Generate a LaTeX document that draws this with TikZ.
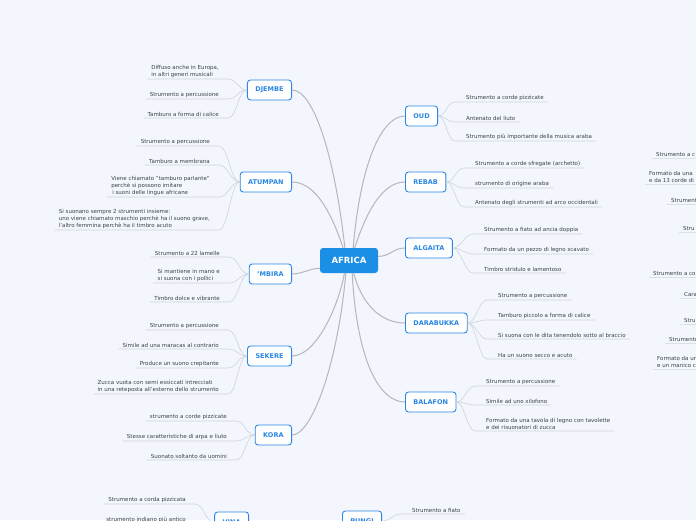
\documentclass[tikz,border=0pt]{standalone}
\usepackage{fontspec}
\setmainfont{DejaVu Sans}
\definecolor{paper}{HTML}{F3F6FD}
\definecolor{hub}{HTML}{1B8FE6}
\definecolor{topic}{HTML}{2A86E4}
\definecolor{ink}{HTML}{3B4048}
\definecolor{limb}{HTML}{B4B7BD}
\definecolor{twig}{HTML}{CFD3DA}

\tikzset{
  hubbox/.style={fill=hub, rounded corners=3pt, text=white,
    font=\fontsize{8.5}{10}\selectfont\bfseries,
    minimum width=58pt, minimum height=25pt, inner sep=0pt},
  topicbox/.style={draw=topic, fill=white, line width=0.9pt,
    rounded corners=3pt, text=topic,
    font=\fontsize{6.5}{8}\selectfont\bfseries,
    minimum height=20pt, inner xsep=8pt, inner ysep=0pt},
  leafL/.style={anchor=south east, align=left, text=ink,
    font=\fontsize{5.5}{7}\selectfont, inner xsep=4pt, inner ysep=1.5pt},
  leafR/.style={leafL, anchor=south west},
  limbline/.style={draw=limb, line width=1pt},
  twigline/.style={draw=twig, line width=0.6pt}
}

\begin{document}
\begin{tikzpicture}[x=1pt, y=-1pt]

\useasboundingbox (0,0) rectangle (696,520);
\fill[paper] (0,0) rectangle (696,520);
\clip (0,0) rectangle (696,520);

\node[hubbox] (africa) at (349,260.5) {AFRICA};

% left topics, anchored on their right edge
\node[topicbox, anchor=east] (djembe)  at (292,90)  {DJEMBE};
\node[topicbox, anchor=east] (atumpan) at (292,182) {ATUMPAN};
\node[topicbox, anchor=east] (mbira)   at (292,274) {'MBIRA};
\node[topicbox, anchor=east] (sekere)  at (292,356) {SEKERE};
\node[topicbox, anchor=east] (kora)    at (292,435) {KORA};
\node[topicbox, anchor=east] (vina)    at (249,522) {VINA};

% right topics, anchored on their left edge
\node[topicbox, anchor=west] (oud)       at (405,116) {OUD};
\node[topicbox, anchor=west] (rebab)     at (405,182) {REBAB};
\node[topicbox, anchor=west] (algaita)   at (405,248) {ALGAITA};
\node[topicbox, anchor=west] (darabukka) at (405,323) {DARABUKKA};
\node[topicbox, anchor=west] (balafon)   at (405,402) {BALAFON};
\node[topicbox, anchor=west] (pungi)     at (342,521) {PUNGI};

% hub to topics
\draw[limbline] (africa.108) .. controls +(-10,-90) and +(22,0) .. (djembe.east);
\draw[limbline] (africa.115) .. controls +(-10,-30) and +(25,0) .. (atumpan.east);
\draw[limbline] (africa.195) .. controls +(-10,0) and +(10,0) .. (mbira.east);
\draw[limbline] (africa.250) .. controls +(-5,30) and +(25,0) .. (sekere.east);
\draw[limbline] (africa.256) .. controls +(-8,90) and +(20,0) .. (kora.east);
\draw[limbline] (africa.72) .. controls +(8,-90) and +(-22,0) .. (oud.west);
\draw[limbline] (africa.66) .. controls +(10,-30) and +(-25,0) .. (rebab.west);
\draw[limbline] (africa.8) .. controls +(12,0) and +(-12,0) .. (algaita.west);
\draw[limbline] (africa.290) .. controls +(8,30) and +(-25,0) .. (darabukka.west);
\draw[limbline] (africa.284) .. controls +(5,90) and +(-25,0) .. (balafon.west);

% left leaves: index / underline y / text
\foreach \i/\yy/\txt in {%
  1/79/{Diffuso anche in Europa,\\in altri generi musicali},
  2/99/{Strumento a percussione},
  3/118/{Tamburo a forma di calice}%
}{
  \node[leafL] (dj\i) at (223,\yy) {\txt};
  \draw[twigline] (dj\i.south west) -- ([xshift=5pt]dj\i.south east)
    .. controls +(9,0) and +(-9,0) .. (djembe.west);
}

\foreach \i/\yy/\txt in {%
  1/146/{Strumento a percussione},
  2/165/{Tamburo a membrana},
  3/197/{Viene chiamato "tamburo parlante"\\perchè si possono imitare\\\,i suoni delle lingue africane},
  4/230/{Si suonano sempre 2 strumenti insieme:\\uno viene chiamato maschio perchè ha il suono grave,\\l'altro femmina perchè ha il timbro acuto}%
}{
  \node[leafL] (at\i) at (214,\yy) {\txt};
  \draw[twigline] (at\i.south west) -- ([xshift=5pt]at\i.south east)
    .. controls +(9,0) and +(-9,0) .. (atumpan.west);
}

\foreach \i/\yy/\txt in {%
  1/257/{Strumento a 22 lamelle},
  2/283/{Si mantiene in mano e\\si suona con i pollici},
  3/302/{Timbro dolce e vibrante}%
}{
  \node[leafL] (mb\i) at (224,\yy) {\txt};
  \draw[twigline] (mb\i.south west) -- ([xshift=5pt]mb\i.south east)
    .. controls +(9,0) and +(-9,0) .. (mbira.west);
}

\foreach \i/\yy/\txt in {%
  1/330/{Strumento a percussione},
  2/349/{Simile ad una maracas al contrario},
  3/368/{Produce un suono crepitante},
  4/394/{Zucca vuota con semi essiccati intrecciati\\in una reteposta all'esterno dello strumento}%
}{
  \node[leafL] (se\i) at (223,\yy) {\txt};
  \draw[twigline] (se\i.south west) -- ([xshift=5pt]se\i.south east)
    .. controls +(9,0) and +(-9,0) .. (sekere.west);
}

\foreach \i/\yy/\txt in {%
  1/421/{strumento a corde pizzicate},
  2/441/{Stesse caratteristiche di arpa e liuto},
  3/460/{Suonato soltanto da uomini}%
}{
  \node[leafL] (ko\i) at (231,\yy) {\txt};
  \draw[twigline] (ko\i.south west) -- ([xshift=5pt]ko\i.south east)
    .. controls +(9,0) and +(-9,0) .. (kora.west);
}

\foreach \i/\yy/\txt in {%
  1/504/{Strumento a corda pizzicata},
  2/524/{strumento indiano più antico}%
}{
  \node[leafL] (vi\i) at (190,\yy) {\txt};
  \draw[twigline] (vi\i.south west) -- ([xshift=5pt]vi\i.south east)
    .. controls +(9,0) and +(-9,0) .. (vina.west);
}

% right leaves: same fields
\foreach \i/\yy/\txt in {%
  1/102/{Strumento a corde pizzicate},
  2/122/{Antenato del liuto},
  3/141/{Strumento più importante della musica araba}%
}{
  \node[leafR] (ou\i) at (462,\yy) {\txt};
  \draw[twigline] (oud.east) .. controls +(8,0) and +(-8,0)
    .. ([xshift=-7pt]ou\i.south west) -- (ou\i.south east);
}

\foreach \i/\yy/\txt in {%
  1/168/{Strumento a corde sfregate (archetto)},
  2/188/{strumento di origine araba},
  3/207/{Antenato degli strumenti ad arco occidentali}%
}{
  \node[leafR] (re\i) at (471,\yy) {\txt};
  \draw[twigline] (rebab.east) .. controls +(8,0) and +(-8,0)
    .. ([xshift=-7pt]re\i.south west) -- (re\i.south east);
}

\foreach \i/\yy/\txt in {%
  1/234/{Strumento a fiato ad ancia doppia},
  2/254/{Formato da un pezzo di legno scavato},
  3/273/{Timbro stridulo e lamentoso}%
}{
  \node[leafR] (al\i) at (480,\yy) {\txt};
  \draw[twigline] (algaita.east) .. controls +(8,0) and +(-8,0)
    .. ([xshift=-7pt]al\i.south west) -- (al\i.south east);
}

\foreach \i/\yy/\txt in {%
  1/300/{Strumento a percussione},
  2/320/{Tamburo piccolo a forma di calice},
  3/339/{Si suona con le dita tenendolo sotto al braccio},
  4/359/{Ha un suono secco e acuto}%
}{
  \node[leafR] (da\i) at (494,\yy) {\txt};
  \draw[twigline] (darabukka.east) .. controls +(8,0) and +(-8,0)
    .. ([xshift=-7pt]da\i.south west) -- (da\i.south east);
}

\foreach \i/\yy/\txt in {%
  1/386/{Strumento a percussione},
  2/405/{Simile ad uno xilofono},
  3/431/{Formato da una tavola di legno con tavolette\\e dei risuonatori di zucca}%
}{
  \node[leafR] (ba\i) at (482,\yy) {\txt};
  \draw[twigline] (balafon.east) .. controls +(8,0) and +(-8,0)
    .. ([xshift=-7pt]ba\i.south west) -- (ba\i.south east);
}

\node[leafR] (pu1) at (408,514) {Strumento a fiato};
\draw[twigline] (pungi.east) .. controls +(8,0) and +(-8,0)
  .. ([xshift=-7pt]pu1.south west) -- (pu1.south east);

% leaves of a topic beyond the right edge
\foreach \i/\xx/\yy/\txt in {%
  1/652/158/{Strumento a c},
  2/645/184/{Formato da una\\e da 13 corde di},
  3/667/204/{Strument},
  4/679/232/{Stru},
  5/649/277/{Strumento a co},
  6/680/298/{Cara},
  7/680/324/{Stru},
  8/665/343/{Strumento},
  9/653/369/{Formato da un\\e un manico c}%
}{
  \node[leafR] (ed\i) at (\xx,\yy) {\txt};
  \draw[twigline] (ed\i.south west) -- (ed\i.south east) -- ++(40,0);
}

\end{tikzpicture}
\end{document}
